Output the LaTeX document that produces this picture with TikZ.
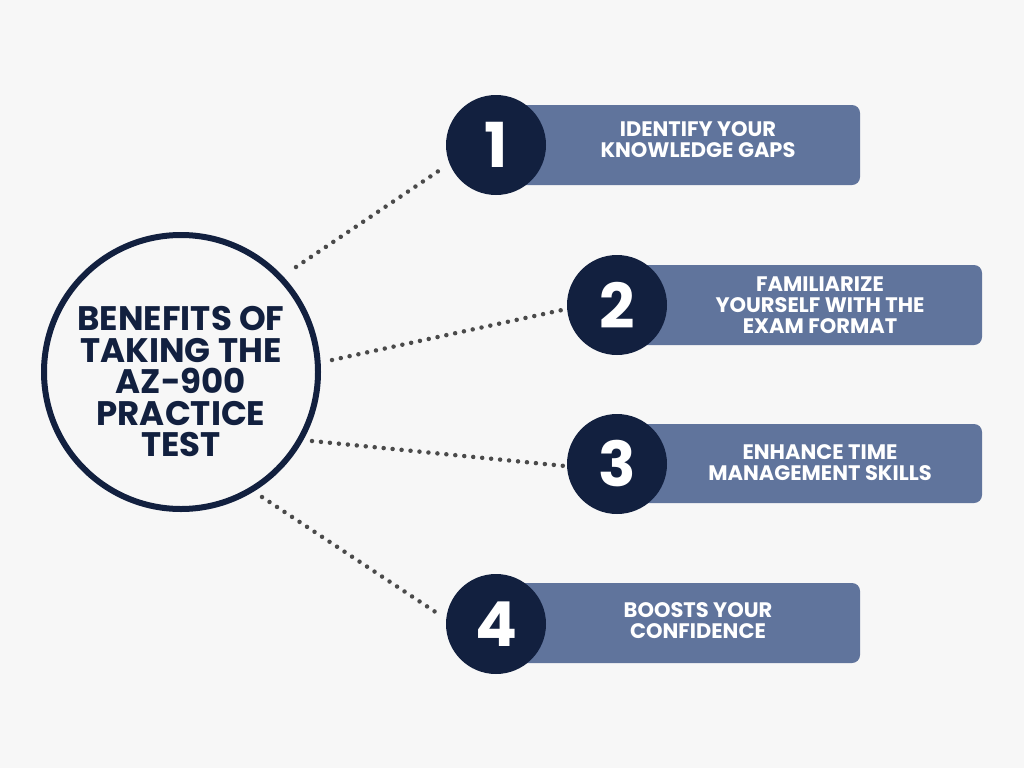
\documentclass[tikz,border=0pt]{standalone}
\usepackage{fontspec}
\setmainfont{Poppins}
\definecolor{navy}{HTML}{12203F}
\definecolor{barblue}{HTML}{60749C}
\definecolor{bg}{HTML}{F7F7F7}
\definecolor{dotgray}{HTML}{4A4A4A}
\begin{document}
\begin{tikzpicture}[x=1pt,y=-1pt]
\tikzset{
  numdisc/.style={circle,fill=navy,minimum size=100pt,inner sep=0pt,text=white,font=\fontsize{62}{62}\selectfont\bfseries},
  bar/.style={rounded corners=8pt,fill=barblue},
  bartext/.style={text=white,align=center,font=\fontsize{21}{21}\selectfont\bfseries},
  dots/.style={dotgray,line width=4.5pt,line cap=round,dash pattern=on 0pt off 9pt}
}
\fill[bg] (0,0) rectangle (1024,768);
% centre circle
\node[circle,draw=navy,line width=6pt,fill=bg,minimum size=274pt,inner sep=0pt] (hub) at (181,372) {};
\node[align=center,text=navy,font=\fontsize{34}{31.5}\selectfont\bfseries] (title) at (181,382)
  {BENEFITS OF\\TAKING THE\\AZ-900\\PRACTICE\\TEST};
% bars
\fill[bar] (500,105) rectangle (860,185);
\fill[bar] (620,265) rectangle (982,345);
\fill[bar] (620,424) rectangle (982,503);
\fill[bar] (500,583) rectangle (860,663);
\node[numdisc] (n1) at (496,145) {1};
\node[numdisc] (n2) at (617,305) {2};
\node[numdisc] (n3) at (617,464) {3};
\node[numdisc] (n4) at (496,624) {4};
\node[bartext] (t1) at (698,140) {IDENTIFY YOUR\\KNOWLEDGE GAPS};
\node[bartext] (t2) at (820,305) {FAMILIARIZE\\YOURSELF WITH THE\\EXAM FORMAT};
\node[bartext] (t3) at (820,463) {ENHANCE TIME\\MANAGEMENT SKILLS};
\node[bartext] (t4) at (698,621) {BOOSTS YOUR\\CONFIDENCE};
% dotted connectors
\coordinate (a1) at (296,267); \coordinate (b1) at (440,170);
\coordinate (a2) at (332,360); \coordinate (b2) at (562,310);
\coordinate (a3) at (312,441); \coordinate (b3) at (565,466);
\coordinate (a4) at (262,497); \coordinate (b4) at (440,615);
\foreach \i in {1,...,4} \draw[dots] (a\i) -- (b\i);
\end{tikzpicture}
\end{document}
